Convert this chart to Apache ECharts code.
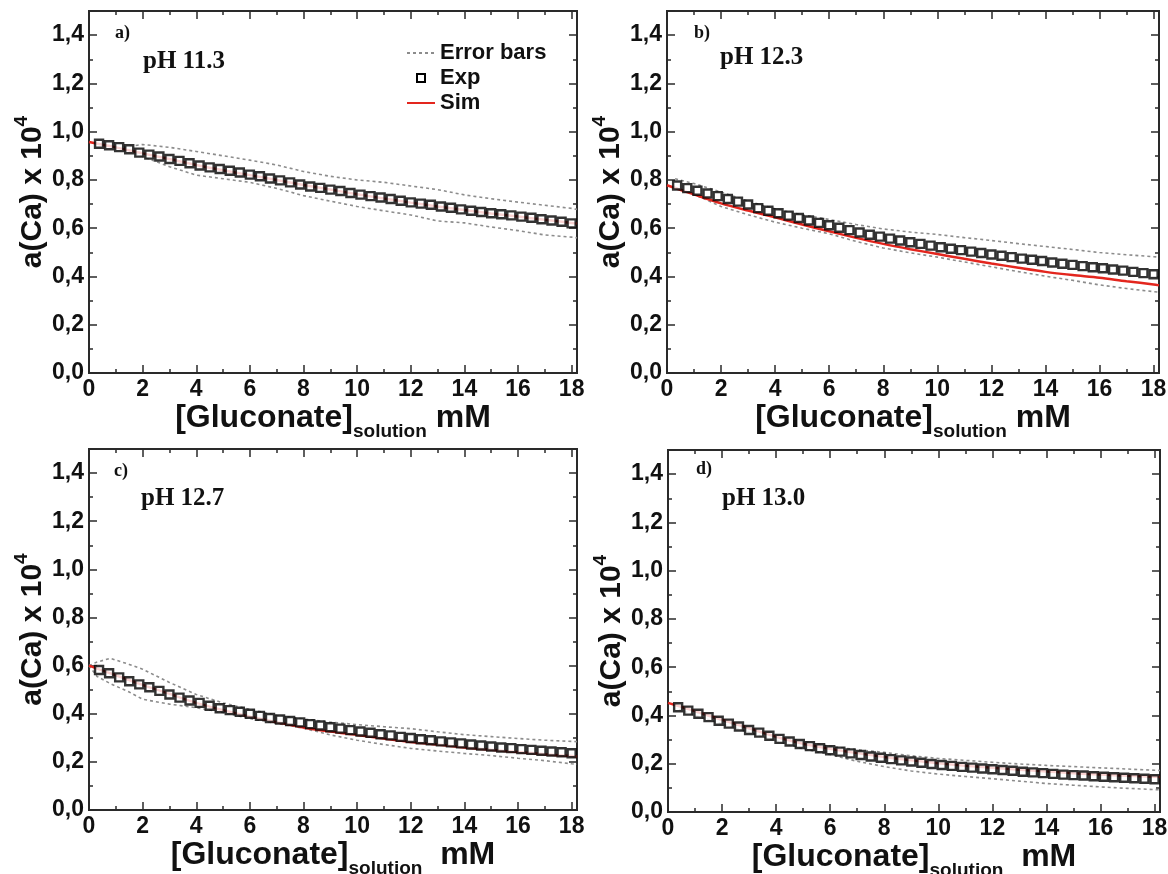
<!DOCTYPE html>
<html><head><meta charset="utf-8">
<script src="https://cdn.jsdelivr.net/npm/echarts@6/dist/echarts.min.js"></script>
<style>html,body{margin:0;padding:0;background:#fff}#c{width:1168px;height:874px}</style>
</head><body><div id="c"></div>
<script>
// ---------- DATA ----------
const expX = [0.375,0.75,1.125,1.5,1.875,2.25,2.625,3,3.375,3.75,4.125,4.5,4.875,5.25,5.625,6,6.375,6.75,7.125,7.5,7.875,8.25,8.625,9,9.375,9.75,10.125,10.5,10.875,11.25,11.625,12,12.375,12.75,13.125,13.5,13.875,14.25,14.625,15,15.375,15.75,16.125,16.5,16.875,17.25,17.625,18];
const expA = [0.950,0.944,0.936,0.927,0.913,0.905,0.897,0.887,0.879,0.869,0.860,0.852,0.845,0.838,0.831,0.822,0.815,0.806,0.798,0.790,0.781,0.773,0.767,0.760,0.754,0.746,0.739,0.733,0.727,0.721,0.714,0.707,0.702,0.697,0.690,0.685,0.678,0.672,0.667,0.662,0.658,0.653,0.648,0.643,0.637,0.632,0.627,0.620];
const expB = [0.777,0.766,0.755,0.744,0.733,0.721,0.710,0.698,0.683,0.672,0.662,0.652,0.642,0.632,0.622,0.612,0.602,0.592,0.582,0.573,0.565,0.557,0.549,0.542,0.535,0.528,0.521,0.515,0.509,0.503,0.497,0.491,0.486,0.480,0.474,0.469,0.464,0.458,0.453,0.448,0.443,0.438,0.434,0.429,0.424,0.419,0.414,0.409];
const expC = [0.582,0.568,0.551,0.535,0.522,0.510,0.495,0.480,0.467,0.455,0.445,0.433,0.423,0.415,0.408,0.400,0.391,0.382,0.376,0.370,0.364,0.357,0.351,0.344,0.338,0.332,0.326,0.321,0.315,0.310,0.304,0.299,0.294,0.290,0.285,0.281,0.277,0.272,0.268,0.264,0.260,0.257,0.253,0.250,0.246,0.243,0.240,0.236];
const expD = [0.434,0.420,0.407,0.393,0.378,0.366,0.354,0.340,0.329,0.316,0.303,0.292,0.282,0.273,0.264,0.256,0.250,0.243,0.236,0.230,0.225,0.219,0.214,0.209,0.204,0.199,0.195,0.191,0.187,0.184,0.180,0.177,0.174,0.171,0.167,0.164,0.161,0.158,0.155,0.153,0.151,0.148,0.146,0.144,0.142,0.140,0.138,0.136];

const simX = [0,1,2,3,4,5,6,7,8,9,10,11,12,13,14,15,16,17,18,18.2];
const simA = [0.957,0.935,0.910,0.887,0.862,0.840,0.820,0.800,0.779,0.760,0.741,0.723,0.706,0.690,0.675,0.661,0.648,0.635,0.622,0.619];
const simB = [0.778,0.740,0.703,0.673,0.645,0.615,0.587,0.560,0.535,0.513,0.493,0.473,0.454,0.436,0.419,0.406,0.395,0.380,0.367,0.363];
const simC = [0.600,0.560,0.520,0.483,0.445,0.415,0.388,0.365,0.343,0.326,0.312,0.297,0.283,0.272,0.260,0.250,0.241,0.232,0.224,0.222];
const simD = [0.452,0.418,0.382,0.347,0.312,0.283,0.262,0.244,0.228,0.214,0.202,0.192,0.183,0.175,0.168,0.161,0.155,0.150,0.146,0.145];

const errXA = [1.3,2,3,4,5,6,7,8,9,10,11,12,13,14,15,16,17,18,18.2];
const upA = [0.935,0.947,0.935,0.918,0.900,0.882,0.862,0.835,0.815,0.800,0.790,0.775,0.760,0.738,0.722,0.708,0.695,0.682,0.678];
const loA = [0.930,0.897,0.855,0.820,0.805,0.790,0.765,0.735,0.712,0.690,0.672,0.655,0.630,0.622,0.605,0.590,0.572,0.563,0.560];

const errXB = [0.3,1,2,3,4,5,6,7,8,9,10,11,12,13,14,15,16,17,18,18.2];
const upB = [0.805,0.785,0.750,0.712,0.680,0.655,0.636,0.615,0.597,0.584,0.574,0.561,0.549,0.536,0.524,0.512,0.499,0.490,0.482,0.480];
const loB = [0.770,0.740,0.690,0.656,0.625,0.600,0.577,0.545,0.518,0.498,0.480,0.460,0.440,0.420,0.401,0.384,0.365,0.350,0.337,0.335];

const errXC = [0,0.3,0.8,1.5,2,3,4,5,6,7,8,9,10,11,12,13,14,15,16,17,18,18.2];
const upC = [0.600,0.615,0.630,0.605,0.585,0.530,0.480,0.445,0.418,0.393,0.378,0.365,0.355,0.346,0.338,0.325,0.313,0.305,0.297,0.290,0.285,0.284];
const loC = [0.600,0.555,0.525,0.490,0.460,0.440,0.425,0.405,0.380,0.360,0.340,0.312,0.290,0.272,0.256,0.245,0.235,0.226,0.215,0.205,0.192,0.190];

const errXD = [0.4,1,2,3,4,5,6,7,8,9,10,11,12,13,14,15,16,17,18,18.2];
const upD = [0.440,0.415,0.378,0.345,0.315,0.292,0.272,0.258,0.247,0.233,0.222,0.214,0.206,0.199,0.193,0.188,0.183,0.178,0.173,0.172];
const loD = [0.425,0.400,0.365,0.330,0.295,0.262,0.238,0.210,0.188,0.170,0.157,0.147,0.138,0.128,0.118,0.111,0.104,0.098,0.093,0.092];

const panelTags = ['a)','b)','c)','d)'];
const phLabels = ['pH 11.3','pH 12.3','pH 12.7','pH 13.0'];
const legendNames = ['Error bars','Exp','Sim'];

// ---------- LAYOUT ----------
const FONT = "'Liberation Sans', Arial, Helvetica, sans-serif";
const SERIF = "'Liberation Serif', 'Times New Roman', serif";
const AX = '#2a2a2a';
const ERR = '#8c8c8c';
const RED = '#e3261e';
const layout = [
  {grid:{left:89,top:11,width:488,height:362}, tag:[115,24], ph:[143,49], unit:' mM'},
  {grid:{left:667,top:11,width:492,height:362}, tag:[694,24], ph:[720,45], unit:' mM'},
  {grid:{left:89,top:449,width:488,height:361}, tag:[114,462], ph:[141,486], unit:'  mM'},
  {grid:{left:668,top:450,width:492,height:362}, tag:[696,460], ph:[722,486], unit:'  mM'}
];
const dataSets = [
  {exp:expA, sim:simA, ex:errXA, up:upA, lo:loA},
  {exp:expB, sim:simB, ex:errXB, up:upB, lo:loB},
  {exp:expC, sim:simC, ex:errXC, up:upC, lo:loC},
  {exp:expD, sim:simD, ex:errXD, up:upD, lo:loD}
];
const pairs = (xs, ys) => xs.map((x, i) => [x, ys[i]]);

const grids = [], xAxes = [], yAxes = [], series = [], titles = [];
layout.forEach((L, i) => {
  grids.push(Object.assign({outerBoundsMode:'none', containLabel:false}, L.grid));
  const common = (tickLen) => ({
    gridIndex:i, type:'value', splitLine:{show:false},
    axisLine:{show:true, onZero:false, lineStyle:{color:AX, width:2}},
    axisTick:{show:true, inside:true, length:tickLen, lineStyle:{color:AX, width:1.5}},
    axisLabel:{show:false}
  });
  const xb = {min:0, max:18.2};
  const yb = {min:0, max:1.5};
  xAxes.push(Object.assign(common(8), xb, {
    position:'bottom', interval:2,
    axisLabel:{show:true, margin:5, color:'#111', fontFamily:FONT, fontWeight:'bold', fontSize:23,
      formatter:v => (Math.abs(v - Math.round(v)) < 1e-6 && Math.round(v) % 2 === 0) ? String(Math.round(v)) : ''},
    name:'{m|[Gluconate]}{s|solution}{m|' + L.unit + '}',
    nameLocation:'middle', nameGap:10,
    nameTextStyle:{rich:{
      m:{fontFamily:FONT, fontWeight:'bold', fontSize:32, color:'#111', lineHeight:34, verticalAlign:'top'},
      s:{fontFamily:FONT, fontWeight:'bold', fontSize:19, color:'#111', lineHeight:60}
    }}
  }));
  xAxes.push(Object.assign(common(8), xb, {position:'top', interval:2}));
  xAxes.push(Object.assign(common(4), xb, {position:'bottom', interval:1}));
  xAxes.push(Object.assign(common(4), xb, {position:'top', interval:1}));
  yAxes.push(Object.assign(common(8), yb, {
    position:'left', interval:0.2,
    axisLabel:{show:true, margin:5, color:'#111', fontFamily:FONT, fontWeight:'bold', fontSize:23,
      formatter:v => Math.abs(v*5 - Math.round(v*5)) < 1e-6 ? v.toFixed(1).replace('.', ',') : ''},
    name:'{m|a(Ca) x 10}{s|4}',
    nameLocation:'middle', nameRotate:90, nameGap:28,
    nameTextStyle:{rich:{
      m:{fontFamily:FONT, fontWeight:'bold', fontSize:30, color:'#111', lineHeight:42},
      s:{fontFamily:FONT, fontWeight:'bold', fontSize:19, color:'#111', lineHeight:20, verticalAlign:'top'}
    }}
  }));
  yAxes.push(Object.assign(common(8), yb, {position:'right', interval:0.2}));
  yAxes.push(Object.assign(common(4), yb, {position:'left', interval:0.1}));
  yAxes.push(Object.assign(common(4), yb, {position:'right', interval:0.1}));

  const D = dataSets[i];
  const ax = {xAxisIndex:4*i, yAxisIndex:4*i};
  const errStyle = {color:ERR, width:1.6, type:[3,3]};
  series.push(Object.assign({type:'line', name:legendNames[0], data:pairs(D.ex, D.up), symbol:'none', itemStyle:{color:ERR}, lineStyle:errStyle, z:2, silent:true}, ax));
  series.push(Object.assign({type:'line', name:legendNames[0], data:pairs(D.ex, D.lo), symbol:'none', itemStyle:{color:ERR}, lineStyle:errStyle, z:2, silent:true}, ax));
  series.push(Object.assign({type:'line', name:legendNames[2], data:pairs(simX, D.sim), symbol:'none', smooth:0.3, itemStyle:{color:RED}, lineStyle:{color:RED, width:2.5}, z:3, silent:true}, ax));
  series.push(Object.assign({type:'scatter', name:legendNames[1], data:pairs(expX, D.exp), symbol:'rect', symbolSize:8,
    itemStyle:{color:'#ffffff', borderColor:'#000000', borderWidth:2.4}, z:4, silent:true}, ax));

  titles.push({text:panelTags[i], left:L.tag[0], top:L.tag[1], padding:0,
    textStyle:{fontFamily:SERIF, fontWeight:'bold', fontSize:18, color:'#111'}});
  titles.push({text:phLabels[i], left:L.ph[0], top:L.ph[1], padding:0,
    textStyle:{fontFamily:SERIF, fontWeight:'bold', fontSize:25, color:'#111'}});
});

const chart = echarts.init(document.getElementById('c'), null, {renderer:'canvas'});
chart.setOption({
  animation:false,
  backgroundColor:'#ffffff',
  title:titles,
  grid:grids, xAxis:xAxes, yAxis:yAxes, series:series,
  legend:{
    left:406, top:42, orient:'vertical', itemWidth:28, itemHeight:8, itemGap:3, padding:0,
    selectedMode:false,
    itemStyle:{opacity:0},
    textStyle:{fontFamily:FONT, fontWeight:'bold', fontSize:22, color:'#111'},
    data:[
      {name:legendNames[0]},
      {name:legendNames[1], icon:'path://M0,0L10,0L10,10L0,10Z', itemStyle:{color:'#ffffff', borderColor:'#000000', borderWidth:2, opacity:1}},
      {name:legendNames[2]}
    ]
  }
});
</script>
</body></html>
